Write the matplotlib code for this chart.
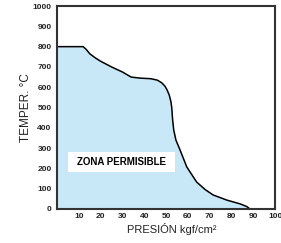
import matplotlib
matplotlib.use('Agg')
import matplotlib.pyplot as plt
from matplotlib.patches import Rectangle

# curva límite (presión kgf/cm2, temperatura °C)
presion = [0, 12, 13.5, 15, 17.5, 20, 25, 30, 34, 38, 43, 46, 48, 49.5, 50.5, 51.5, 52.2, 52.6, 53.0, 53.5, 54.5, 56.4, 59.5, 64, 68, 71.6, 77.8, 84, 87, 88.5]
temper = [800, 800, 785, 765, 745, 728, 700, 675, 650, 645, 642, 635, 622, 605, 586, 560, 530, 500, 440, 390, 340, 291, 207, 133, 95, 69, 44, 25, 12, 0]

xticks = [10, 20, 30, 40, 50, 60, 70, 80, 90, 100]
yticks = [0, 100, 200, 300, 400, 500, 600, 700, 800, 900, 1000]

fig = plt.figure(figsize=(2.81, 2.43), dpi=100)
ax = fig.add_axes([0.203, 0.140, 0.776, 0.835])

ax.fill_between(presion, temper, 0, color='#c8e8f7', lw=0)
ax.plot(presion, temper, color='black', lw=1.1)

ax.set_xlim(0, 100)
ax.set_ylim(0, 1000)
ax.set_xticks(xticks)
ax.set_yticks(yticks)
tick_font = dict(family=['Liberation Sans', 'DejaVu Sans'], size=6, fontweight='bold')
ax.set_xticklabels([str(t) for t in xticks], **tick_font)
ax.set_yticklabels([str(t) for t in yticks], **tick_font)
ax.tick_params(length=0, pad=4, colors='#222222')
ax.tick_params(axis='x', pad=3)

for s in ax.spines.values():
    s.set_color('#333333')
    s.set_linewidth(1.5)

ax.add_patch(Rectangle((5, 183), 49, 97, facecolor='white', edgecolor='none', zorder=3))
ax.text(9, 231, 'ZONA PERMISIBLE', family=['Liberation Sans', 'DejaVu Sans'],
        fontsize=7, fontweight='bold', va='center', ha='left', zorder=4)

ax.set_ylabel('TEMPER. °C', fontsize=8.5, color='#222222',
              family=['Liberation Sans', 'DejaVu Sans'])
ax.yaxis.set_label_coords(-0.115, 0.5)
ax.set_xlabel('PRESIÓN kgf/cm²', fontsize=8, color='#222222',
              family=['Liberation Sans', 'DejaVu Sans'])
ax.xaxis.set_label_coords(0.525, -0.07)

fig.savefig('out.png', dpi=100)
